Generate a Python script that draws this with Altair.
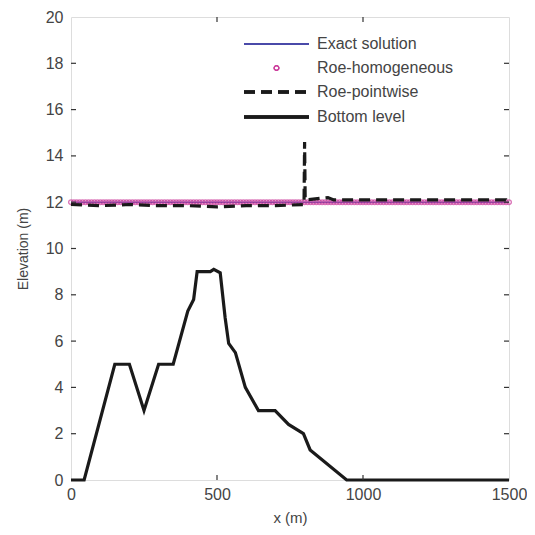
import altair as alt
import pandas as pd

# Bottom level profile (x in m, elevation in m)
bottom_x = [0, 45, 150, 200, 250, 300, 350, 400, 420, 432, 477, 489, 511, 528, 540, 563, 597, 642, 699, 745, 796, 819, 944, 1500]
bottom_y = [0, 0, 5, 5, 3, 5, 5, 7.3, 7.8, 9.0, 9.0, 9.1, 8.95, 7.0, 5.9, 5.5, 4.0, 3.0, 3.0, 2.4, 2.0, 1.3, 0, 0]

# Exact solution: still water at 12 m
exact_x = [0, 1500]
exact_y = [12, 12]

# Roe-homogeneous: mesh points, all at 12 m
hom_x = list(range(0, 1501, 10))
hom_y = [12.0] * len(hom_x)

# Roe-pointwise
pw_x = [0, 100, 200, 300, 400, 500, 600, 700, 798, 800, 802, 880, 900, 1000, 1100, 1200, 1300, 1400, 1490, 1500]
pw_y = [11.9, 11.85, 11.9, 11.85, 11.85, 11.8, 11.85, 11.85, 11.9, 14.6, 12.1, 12.2, 12.1, 12.1, 12.1, 12.1, 12.1, 12.1, 12.1, 11.9]

x_ticks = [500, 1000]
y_ticks = [2, 4, 6, 8, 10, 12, 14, 16, 18]

legend_labels = ["Exact solution", "Roe-homogeneous", "Roe-pointwise", "Bottom level"]

W, H = 438, 463
FONT = "Liberation Sans"
TXT = "#444444"

xs = alt.Scale(domain=[0, 1500], nice=False, zero=False)
ys = alt.Scale(domain=[0, 20], nice=False, zero=False)

xaxis = alt.Axis(values=[0, 500, 1000, 1500], format="d", title="x (m)", tickSize=0, labelPadding=6,
                 domain=False, grid=False, labelFontSize=16, titleFontSize=15,
                 labelColor=TXT, titleColor=TXT, labelFont=FONT, titleFont=FONT,
                 titleFontWeight="normal", titlePadding=8, labelFlush=False)
yaxis = alt.Axis(values=list(range(0, 21, 2)), format="d", title="Elevation (m)", tickSize=0, labelPadding=8,
                 domain=False, grid=False, labelFontSize=16, titleFontSize=14,
                 labelColor=TXT, titleColor=TXT, labelFont=FONT, titleFont=FONT,
                 titleFontWeight="normal", titlePadding=15, labelFlush=False)

df_bottom = pd.DataFrame({"x": bottom_x, "y": bottom_y})
df_exact = pd.DataFrame({"x": exact_x, "y": exact_y})
df_hom = pd.DataFrame({"x": hom_x, "y": hom_y})
df_pw = pd.DataFrame({"x": pw_x, "y": pw_y})

base_axes = alt.Chart(df_exact).mark_line(color="#4a4aa8", strokeWidth=1.5).encode(
    x=alt.X("x:Q", scale=xs, axis=xaxis),
    y=alt.Y("y:Q", scale=ys, axis=yaxis),
)

hom = alt.Chart(df_hom).mark_point(shape="circle", filled=False, color="#cc3d9c",
                                   size=22, strokeWidth=1.4).encode(
    x=alt.X("x:Q", scale=xs), y=alt.Y("y:Q", scale=ys))

pw = alt.Chart(df_pw).mark_line(color="#1a1a1a", strokeWidth=3.2, strokeDash=[11, 6]).encode(
    x=alt.X("x:Q", scale=xs), y=alt.Y("y:Q", scale=ys))

bottom = alt.Chart(df_bottom).mark_line(color="#1a1a1a", strokeWidth=3.2).encode(
    x=alt.X("x:Q", scale=xs), y=alt.Y("y:Q", scale=ys))

df_xt = pd.DataFrame({"t": x_ticks})
df_yt = pd.DataFrame({"t": y_ticks})
tick_style = dict(color="#333333", strokeWidth=1.2)
xt_bot = alt.Chart(df_xt).mark_rule(**tick_style).encode(
    x=alt.X("t:Q", scale=xs), y=alt.value(H), y2=alt.value(H - 5))
xt_top = alt.Chart(df_xt).mark_rule(**tick_style).encode(
    x=alt.X("t:Q", scale=xs), y=alt.value(0), y2=alt.value(5))
yt_left = alt.Chart(df_yt).mark_rule(**tick_style).encode(
    y=alt.Y("t:Q", scale=ys), x=alt.value(0), x2=alt.value(5))
yt_right = alt.Chart(df_yt).mark_rule(**tick_style).encode(
    y=alt.Y("t:Q", scale=ys), x=alt.value(W), x2=alt.value(W - 5))

# Manual legend
df_leg = pd.DataFrame({"label": legend_labels})
LX0, LX1, LT = 173, 238, 246
LY = [27, 51, 75, 100]
leg_exact = alt.Chart(df_leg).mark_rule(color="#4a4aa8", strokeWidth=1.5).encode(
    x=alt.value(LX0), x2=alt.value(LX1), y=alt.value(LY[0]))
leg_hom = alt.Chart(df_leg).mark_point(shape="circle", filled=False, color="#cc3d9c",
                                       size=22, strokeWidth=1.2).encode(
    x=alt.value((LX0 + LX1) / 2), y=alt.value(LY[1]))
leg_pw = alt.Chart(df_leg).mark_rule(color="#1a1a1a", strokeWidth=3, strokeDash=[11, 6]).encode(
    x=alt.value(LX0), x2=alt.value(LX1 + 2), y=alt.value(LY[2]))
leg_bot = alt.Chart(df_leg).mark_rule(color="#1a1a1a", strokeWidth=3).encode(
    x=alt.value(LX0), x2=alt.value(LX1), y=alt.value(LY[3]))
leg_text = []
for lab, yy in zip(legend_labels, LY):
    leg_text.append(
        alt.Chart(pd.DataFrame({"label": [lab]})).mark_text(
            align="left", baseline="middle", fontSize=16, font=FONT, color=TXT
        ).encode(x=alt.value(LT), y=alt.value(yy), text="label:N")
    )

chart = alt.layer(
    base_axes, hom, pw, bottom, xt_bot, xt_top, yt_left, yt_right,
    leg_exact, leg_hom, leg_pw, leg_bot, *leg_text
).properties(
    width=W, height=H,
    autosize=alt.AutoSizeParams(type="none"),
    padding={"left": 63, "top": 9, "right": 18, "bottom": 47},
).configure_view(stroke="#333333", strokeWidth=1.5).configure(background="white")

chart.save("out.html", embed_options={"renderer": "svg", "actions": False})
